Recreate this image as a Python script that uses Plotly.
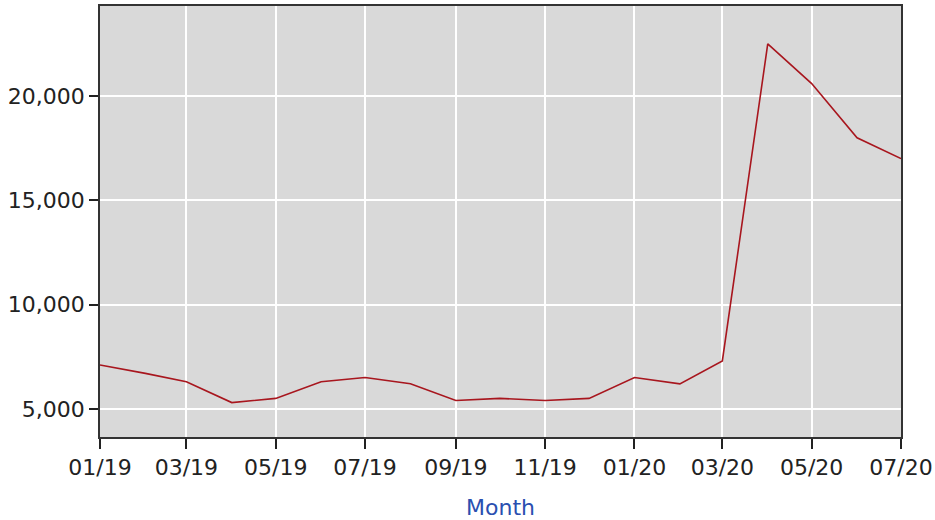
import plotly.graph_objects as go

months = ["2019-01-01", "2019-02-01", "2019-03-01", "2019-04-01", "2019-05-01", "2019-06-01",
          "2019-07-01", "2019-08-01", "2019-09-01", "2019-10-01", "2019-11-01", "2019-12-01",
          "2020-01-01", "2020-02-01", "2020-03-01", "2020-04-01", "2020-05-01", "2020-06-01",
          "2020-07-01"]
values = [7100, 6700, 6300, 5300, 5500, 6300, 6500, 6200, 5400, 5500, 5400, 5500,
          6500, 6200, 7300, 22500, 20600, 18000, 17000]
y_ticks = [5000, 10000, 15000, 20000]
y_tick_labels = ["5,000", "10,000", "15,000", "20,000"]

font_family = "DejaVu Sans"

fig = go.Figure()
fig.add_trace(go.Scatter(
    x=months, y=values, mode="lines",
    line=dict(color="#a8161e", width=1.6),
    hoverinfo="skip", showlegend=False,
))

fig.update_layout(
    width=935, height=520,
    margin=dict(l=100, r=34, t=6, b=83, autoexpand=False),
    paper_bgcolor="white",
    plot_bgcolor="#d9d9d9",
    font=dict(family=font_family, size=22, color="#222222"),
    xaxis=dict(
        type="date",
        range=["2019-01-01", "2020-07-01"],
        dtick="M2", tick0="2019-01-01",
        tickformat="%m/%y",
        automargin=False,
        showgrid=True, gridcolor="white", gridwidth=1.5,
        showline=True, linecolor="#333333", linewidth=1.5, mirror=True,
        ticks="outside", ticklen=10, tickcolor="#222222", tickwidth=1.5,
        title=dict(text="Month", font=dict(color="#2a4fb0", size=22, family=font_family), standoff=22),
        zeroline=False,
    ),
    yaxis=dict(
        range=[3650, 24320],
        automargin=False,
        tickvals=y_ticks, ticktext=y_tick_labels,
        showgrid=True, gridcolor="white", gridwidth=1.5,
        showline=True, linecolor="#333333", linewidth=1.5, mirror=True,
        ticks="outside", ticklen=9, tickcolor="#222222", tickwidth=1.5,
        zeroline=False,
    ),
)

fig.write_html(
    "out.html",
    config={"displayModeBar": False},
    post_script="document.body.style.margin='0';document.body.style.padding='0';document.body.style.overflow='hidden';",
)
